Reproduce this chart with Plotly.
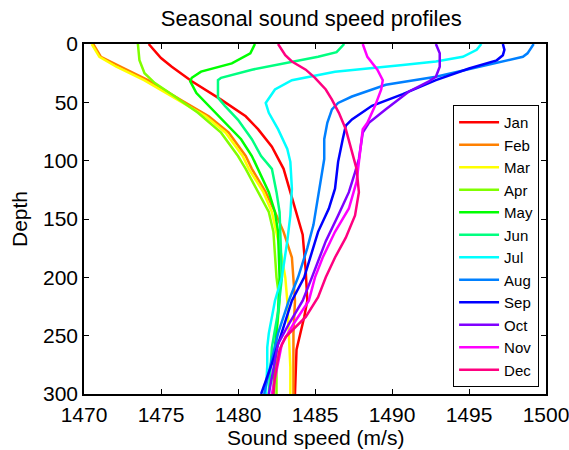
import plotly.graph_objects as go

months = ["Jan", "Feb", "Mar", "Apr", "May", "Jun", "Jul", "Aug", "Sep", "Oct", "Nov", "Dec"]
colors = ["#ff0000", "#ff8000", "#ffff00", "#80ff00", "#00ff00", "#00ff80",
          "#00ffff", "#0080ff", "#0000ff", "#8000ff", "#ff00ff", "#ff0080"]

jan_s = [1474.2, 1475.0, 1475.7, 1477.0, 1478.9, 1480.5, 1481.3, 1482.2, 1482.96, 1483.4, 1483.8, 1484.2, 1484.4, 1484.5, 1484.3, 1484.05, 1483.8, 1483.7]
jan_d = [0, 12, 19.5, 32, 47.7, 62, 73, 88, 107, 127, 147, 163.5, 195, 220, 234, 248, 262, 300]

feb_s = [1470.6, 1471.1, 1472.4, 1474.15, 1476.3, 1478.1, 1479.4, 1480.5, 1480.9, 1481.8, 1482.4, 1482.96, 1483.5, 1483.6, 1483.7, 1483.6, 1483.6]
feb_d = [0, 11, 19.5, 31, 48, 62, 76, 96, 107, 127, 144, 161, 183, 200, 220, 248, 300]

mar_s = [1470.5, 1471.0, 1472.1, 1473.9, 1476.1, 1477.9, 1479.2, 1480.3, 1480.7, 1481.65, 1482.2, 1482.5, 1482.85, 1483.07, 1483.2, 1483.3, 1483.4, 1483.4]
mar_d = [0, 11, 19.5, 31, 48, 62, 76, 96, 107, 127, 144, 161, 183, 200, 220, 248, 277, 300]

apr_s = [1473.5, 1473.6, 1473.93, 1474.6, 1475.9, 1477.4, 1478.9, 1480.0, 1480.5, 1481.3, 1482.0, 1482.3, 1482.5, 1482.7, 1482.5, 1482.5]
apr_d = [0, 14, 25, 33.5, 45, 59, 76, 96, 107, 127, 144, 161, 200, 220, 248, 300]

may_s = [1481.1, 1480.8, 1479.6, 1477.6, 1477.0, 1476.9, 1477.3, 1478.1, 1479.15, 1480.2, 1480.9, 1481.3, 1482.0, 1482.4, 1482.6, 1482.7, 1482.6, 1482.4, 1482.3]
may_d = [0, 8, 16.6, 23.7, 29, 32, 42, 53, 67.5, 81.6, 96, 107, 127, 144, 161, 200, 230, 260, 300]

jun_s = [1486.9, 1486.4, 1485.2, 1483.1, 1480.9, 1478.9, 1478.7, 1478.7, 1479.15, 1480.0, 1480.9, 1481.5, 1482.2, 1482.5, 1482.7, 1482.85, 1482.6, 1482.2, 1482.0]
jun_d = [0, 7, 11, 16.6, 22, 29, 31, 46, 53, 65, 81.6, 96, 107, 127, 144, 200, 230, 260, 300]

jul_s = [1495.8, 1495.5, 1494.6, 1492.85, 1490.7, 1489.6, 1486.3, 1483.5, 1482.4, 1481.8, 1482.0, 1482.6, 1483.2, 1483.4, 1483.5, 1483.4, 1483.2, 1482.85, 1482.4, 1482.0, 1481.9, 1481.9, 1481.8]
jul_d = [0, 5, 11, 15, 18, 19.5, 23.7, 31, 39, 50.5, 59, 73, 90, 101, 124, 147, 169, 200, 220, 248, 260, 276, 300]

aug_s = [1499.2, 1498.8, 1498.5, 1496.1, 1492.85, 1489.6, 1487.4, 1486.5, 1486.1, 1485.8, 1485.6, 1485.6, 1485.5, 1485.2, 1484.9, 1484.5, 1483.9, 1483.3, 1482.6, 1482.1, 1481.7]
aug_d = [0, 8, 11, 18, 28, 35, 45, 50.5, 56, 67.5, 81.6, 98.6, 107, 132, 155, 175, 200, 220, 248, 276, 300]

sep_s = [1497.2, 1497.3, 1497.2, 1496.8, 1495.0, 1492.85, 1490.7, 1488.7, 1487.4, 1487.0, 1486.8, 1486.5, 1486.3, 1485.9, 1485.2, 1484.8, 1484.3, 1483.5, 1482.85, 1482.2, 1481.5]
sep_d = [0, 5, 9.6, 14, 21, 31, 43, 53, 64.7, 70, 81.6, 101, 124, 141, 161, 178, 200, 220, 248, 274, 300]

oct_s = [1492.85, 1493.1, 1493.1, 1492.85, 1492.4, 1491.1, 1489.6, 1488.5, 1488.1, 1487.85, 1487.6, 1487.2, 1486.5, 1485.7, 1484.8, 1484.2, 1483.3, 1482.6, 1482.0]
oct_d = [0, 8, 19.5, 28, 32, 40.7, 56, 67.5, 76, 98.6, 110, 127, 147, 169, 200, 220, 240, 257, 300]

nov_s = [1488.1, 1488.4, 1489.05, 1489.4, 1489.3, 1488.9, 1488.4, 1488.1, 1487.95, 1487.7, 1487.2, 1486.3, 1485.5, 1485.0, 1484.6, 1483.6, 1482.85, 1482.2]
nov_d = [0, 11, 22, 31, 39, 53, 67.5, 73, 90, 118, 141, 161, 183, 200, 220, 240, 257, 300]

dec_s = [1482.6, 1483.07, 1483.5, 1484.4, 1485.0, 1485.7, 1486.1, 1486.55, 1487.0, 1487.4, 1487.7, 1487.85, 1487.6, 1487.0, 1486.3, 1485.7, 1485.2, 1484.4, 1483.1, 1482.7, 1482.4, 1482.3]
dec_d = [0, 9.6, 15, 22, 29, 39, 47.7, 59, 73, 93, 107, 127, 147, 166, 183, 200, 217, 234, 251, 262, 285, 300]

speeds = [jan_s, feb_s, mar_s, apr_s, may_s, jun_s, jul_s, aug_s, sep_s, oct_s, nov_s, dec_s]
depths = [jan_d, feb_d, mar_d, apr_d, may_d, jun_d, jul_d, aug_d, sep_d, oct_d, nov_d, dec_d]

x_ticks = [1470, 1475, 1480, 1485, 1490, 1495, 1500]
y_ticks = [0, 50, 100, 150, 200, 250, 300]

fig = go.Figure()
for name, col, s, d in zip(months, colors, speeds, depths):
    fig.add_trace(go.Scatter(x=s, y=d, mode="lines", name=name,
                             line=dict(color=col, width=2.5)))

font_family = "Liberation Sans, Arial, sans-serif"
fig.update_layout(
    width=569, height=450,
    margin=dict(l=84, r=23, t=44, b=56, autoexpand=False),
    paper_bgcolor="white", plot_bgcolor="white",
    font=dict(family=font_family, size=21, color="black"),
    title=dict(text="Seasonal sound speed profiles", x=0.492, xref="paper", xanchor="center",
               y=1 - 18.5 / 450, yref="container", yanchor="middle",
               font=dict(size=22, color="black")),
    showlegend=True,
    legend=dict(x=0.985, y=0.02, xanchor="right", yanchor="bottom",
                bgcolor="white", bordercolor="black", borderwidth=1,
                font=dict(size=15, color="black"), tracegroupgap=0,
                itemwidth=40),
    annotations=[dict(text="Sound speed (m/s)", xref="paper", yref="paper",
                      x=0.5, y=0, xanchor="center", yanchor="top", yshift=-30,
                      showarrow=False, font=dict(size=21, color="black"))],
)
fig.update_xaxes(range=[1470, 1500], tickvals=x_ticks, ticktext=[str(v) for v in x_ticks],
                 showgrid=False, zeroline=False, showline=True, linecolor="black",
                 linewidth=1.5, mirror="ticks", ticks="inside", ticklen=5,
                 tickcolor="black", tickfont=dict(size=21), automargin=False,
                 ticklabeloverflow="allow", ticklabelstandoff=1)
fig.update_yaxes(range=[300, 0], tickvals=y_ticks, ticktext=[str(v) for v in y_ticks],
                 showgrid=False, zeroline=False, showline=True, linecolor="black",
                 linewidth=1.5, mirror="ticks", ticks="inside", ticklen=5,
                 tickcolor="black", tickfont=dict(size=21), automargin=False,
                 title=dict(text="Depth", standoff=10, font=dict(size=21)))

fig.write_html("out.html")
